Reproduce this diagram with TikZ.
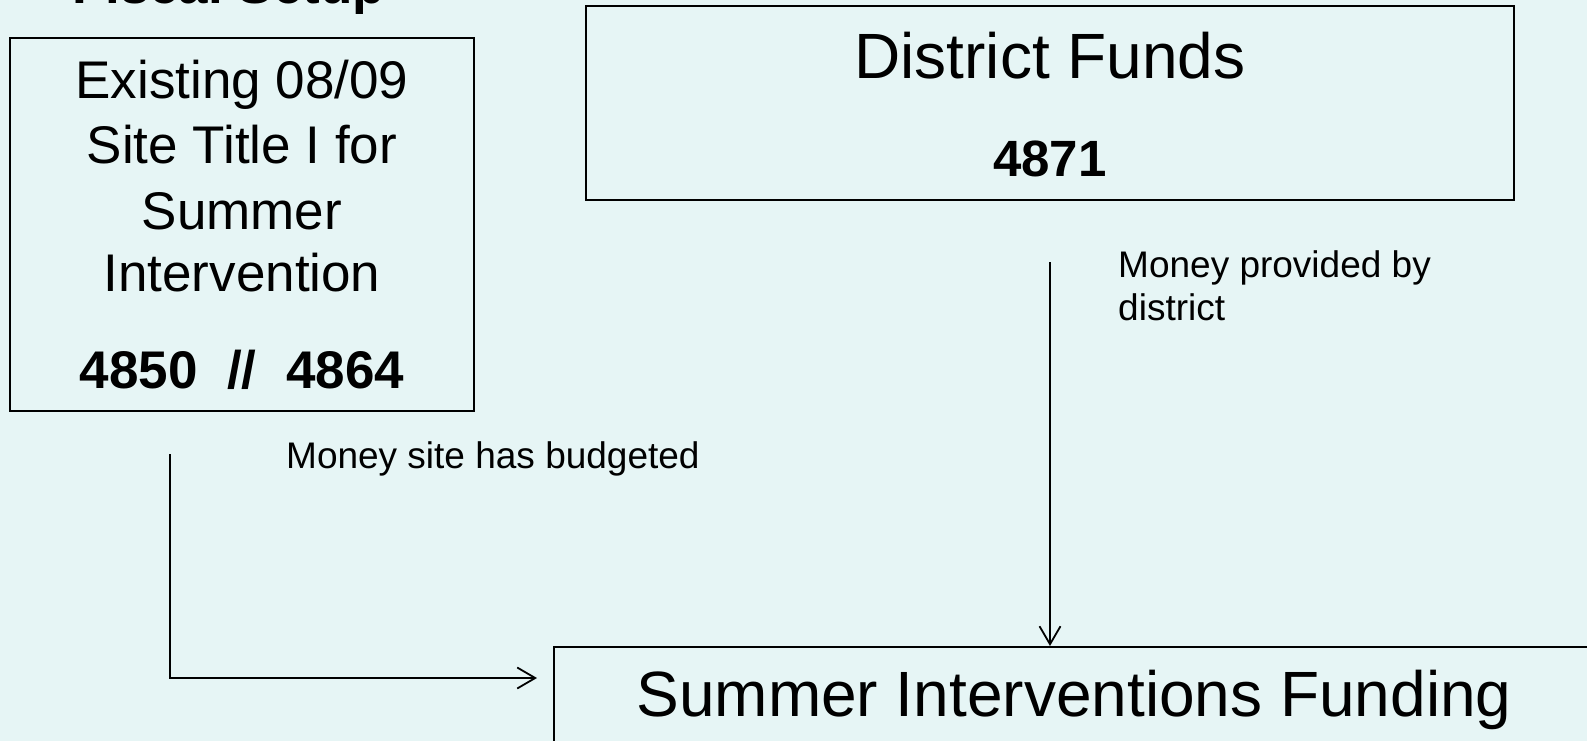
\documentclass[tikz,border=0pt]{standalone}
\usepackage{fontspec}
\setmainfont{Liberation Sans}
\usetikzlibrary{arrows.meta}
\definecolor{slidebg}{HTML}{E6F5F5}

\begin{document}
\begin{tikzpicture}[x=1pt, y=-1pt,
    box/.style={draw, line width=2pt, inner sep=0pt},
    boxtext/.style={anchor=base, inner sep=0pt, font=\fontsize{53}{60}\selectfont},
    numtext/.style={boxtext, font=\fontsize{53}{60}\selectfont\bfseries},
    bigtext/.style={anchor=base, inner sep=0pt, font=\fontsize{64}{72}\selectfont},
    note/.style={anchor=base west, inner sep=0pt, font=\fontsize{37}{42}\selectfont},
    flow/.style={line width=1.8pt, -{Straight Barb[length=18pt, width=21pt, line width=1.8pt]}}]
  \useasboundingbox (0,0) rectangle (1587,741);
  \clip (0,0) rectangle (1587,741);
  \fill [slidebg] (0,0) rectangle (1587,741);

  % Title, cut off at the top
  \node [numtext] (title) at (229,4) {Fiscal Setup};

  % Boxes
  \node [box, minimum width=464, minimum height=372.5] (site) at (242,224.75) {};
  \node [box, minimum width=928, minimum height=194] (district) at (1050,103) {};
  \node [box, anchor=north west, minimum width=1100, minimum height=150] (summer) at (553,646) {};

  % Box texts
  \node [boxtext] (site1) at (242,99) {Existing 08/09};
  \node [boxtext] (site2) at (242,163) {Site Title I for};
  \node [boxtext] (site3) at (242,229) {Summer};
  \node [boxtext] (site4) at (242,291) {Intervention};
  \node [numtext] (siteNum) at (242,388) {4850\ \ //\ \ 4864};
  \node [bigtext] (districtLbl) at (1050,79) {District Funds};
  \node [numtext, font=\fontsize{51}{58}\selectfont\bfseries] (districtNum) at (1050,176) {4871};
  \node [bigtext] (summerLbl) at (1074,716) {Summer Interventions Funding};

  % Arrows
  \coordinate (siteOut) at (170,454);
  \coordinate (distOut) at (1050,262);
  \coordinate (summerIn) at (537,678);
  \draw [flow] (siteOut) |- (summerIn);
  \draw [flow] (distOut) -- (distOut |- summer.north);

  % Arrow labels
  \node [note] (siteNote) at (286,468) {Money site has budgeted};
  \node [note] (distNote1) at (1118,277) {Money provided by};
  \node [note] (distNote2) at (1118,320) {district};
\end{tikzpicture}
\end{document}
